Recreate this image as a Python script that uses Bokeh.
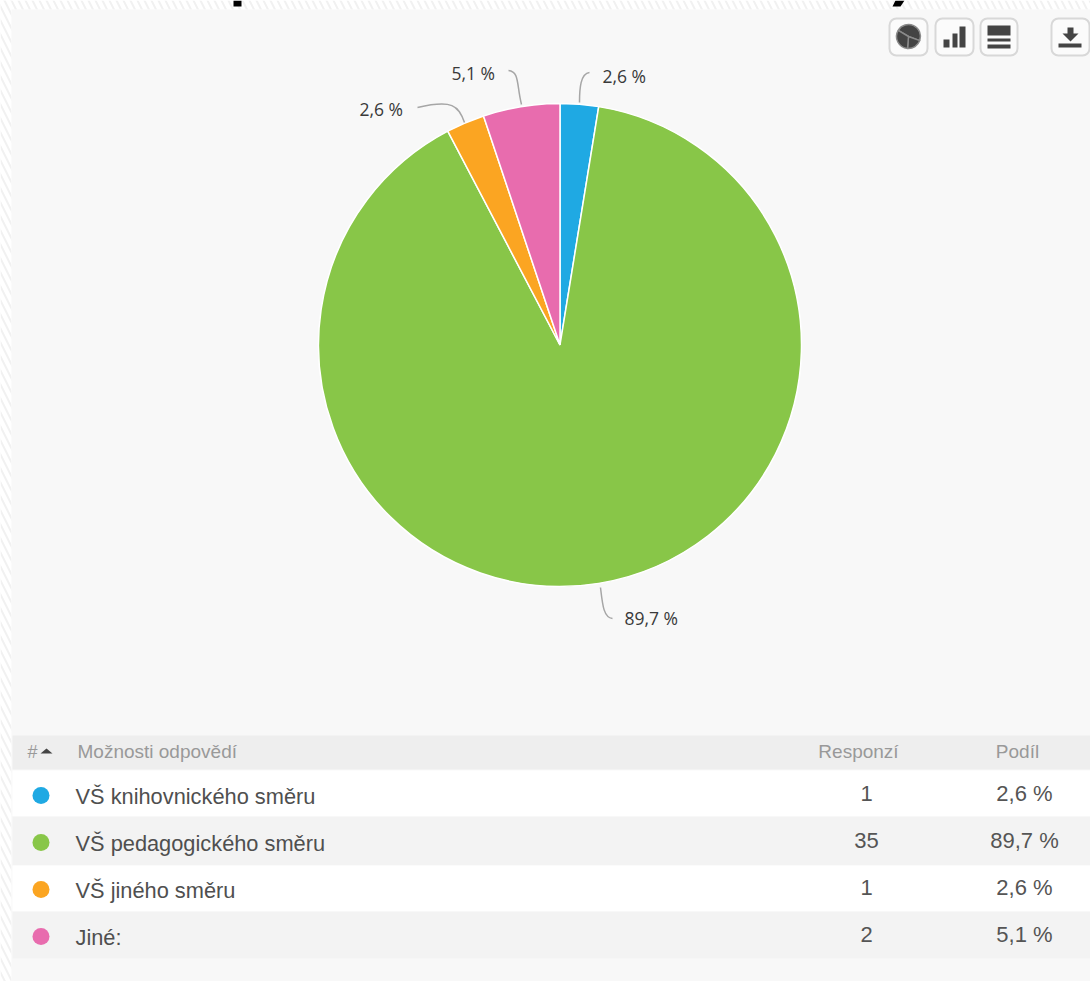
import math
from bokeh.plotting import figure
from bokeh.embed import file_html
from bokeh.resources import INLINE
from bokeh.core.properties import value

categories = ["VŠ knihovnického směru", "VŠ pedagogického směru", "VŠ jiného směru", "Jiné:"]
responses = [1, 35, 1, 2]
shares = [2.6, 89.7, 2.6, 5.1]
share_labels = ["2,6 %", "89,7 %", "2,6 %", "5,1 %"]
colors = ["#1fa9e3", "#88c648", "#fba522", "#e86cae"]
headers = ["Možnosti odpovědí", "Responzí", "Podíl"]

W, H = 1090, 981
CX, CY, R = 559.5, 344.5, 241.5

p = figure(width=W, height=H, x_range=(0, W), y_range=(H, 0),
           output_backend="svg", toolbar_location=None, min_border=0,
           outline_line_color=None, background_fill_color="white", border_fill_color="white")
p.axis.visible = False
p.grid.visible = False

# hatched page strip, panel
p.quad(left=[0, 0], right=[W, 11], top=[0, 0], bottom=[9, H], fill_color="white", line_color=None,
       hatch_pattern="left_diagonal_line", hatch_color="#f1f1f1", hatch_scale=14, hatch_weight=2)
p.quad(left=[11], right=[W], top=[9], bottom=[H], fill_color="#f8f8f8", line_color=None)

# clipped title descenders
p.patch(x=[233, 241, 241, 233], y=[0, 0, 6, 6], fill_color="black", line_color=None)
p.patch(x=[895, 904, 900, 892], y=[0, 0, 6, 6], fill_color="black", line_color=None)

# pie: Bokeh measures wedge angles anticlockwise on screen
total = sum(responses)
a = math.pi / 2
starts, ends = [], []
for r in responses:
    starts.append(a)
    a -= 2 * math.pi * r / total
    ends.append(a)
p.wedge(x=CX, y=CY, radius=R, start_angle=starts, end_angle=ends, direction="clock",
        fill_color=colors, line_color="white", line_width=1.5)

# leaders
leader_paths = [
    ((579, 102), (579, 88), (580, 73), (589, 72)),
    ((600, 587), (602, 604), (603, 617), (612, 618)),
    ((464, 122), (458, 105), (452, 99), (417, 107)),
    ((521, 104), (516, 84), (519, 71), (508, 70)),
]
for (x0, y0), (cx0, cy0), (cx1, cy1), (x1, y1) in leader_paths:
    p.bezier(x0=[x0], y0=[y0], cx0=[cx0], cy0=[cy0], cx1=[cx1], cy1=[cy1], x1=[x1], y1=[y1],
             line_color="#a6a6a6", line_width=1.5)

label_x = [602, 624, 359, 451]
label_y = [75, 617, 108, 72]
p.text(x=label_x, y=label_y, text=share_labels, text_font=value("Open Sans"), text_font_size="17.5px",
       text_color="#3a3a3a", text_align="left", text_baseline="middle")

# table bands
row_top = [770, 816, 865, 911]
row_bot = [816, 865, 911, 958]
row_fill = ["white", "#f3f3f3", "white", "#f3f3f3"]
p.quad(left=[12], right=[W], top=[735], bottom=[769], fill_color="#eeeeee", line_color=None)
p.quad(left=[12] * 4, right=[W] * 4, top=row_top, bottom=row_bot, fill_color=row_fill, line_color=None)

row_mid = [795, 842, 889, 936]
p.scatter(x=[40.5] * 4, y=row_mid, size=17, marker="circle", fill_color=colors, line_color=None)
p.text(x=[75] * 4, y=[r + 1 for r in row_mid], text=categories, text_font=value("Liberation Sans"),
       text_font_size="21.8px", text_color="#4f4f4f", text_baseline="middle")
p.text(x=[866] * 4, y=[r - 2 for r in row_mid], text=[str(v) for v in responses],
       text_font=value("Liberation Sans"), text_font_size="22px", text_color="#555555",
       text_align="center", text_baseline="middle")
p.text(x=[1024] * 4, y=[r - 2 for r in row_mid], text=[f"{s:.1f} %".replace(".", ",") for s in shares],
       text_font=value("Liberation Sans"), text_font_size="22px", text_color="#555555",
       text_align="center", text_baseline="middle")

# headers
p.text(x=[77, 858, 1017], y=[751] * 3, text=headers, text_font=value("Liberation Sans"),
       text_font_size="19px", text_color="#999999", text_align=["left", "center", "center"],
       text_baseline="middle")
p.text(x=[27], y=[751], text=["#"], text_font=value("Liberation Sans"), text_font_size="18px",
       text_color="#999999", text_baseline="middle")
p.patch(x=[40, 52, 46], y=[753, 753, 748], fill_color="#444444", line_color=None)

# toolbar buttons
btn_l = [889, 935, 980, 1051]
btn_r = [927, 973, 1017, 1089]
p.quad(left=btn_l, right=btn_r, top=[18] * 4, bottom=[55] * 4, fill_color="#fbfbfb",
       line_color="#d8d8d8", line_width=2, border_radius=7)
ICON = "#444444"
# pie icon
p.wedge(x=908, y=36, radius=12, start_angle=[2.6, -0.35, -1.65], end_angle=[-0.35, -1.65, -3.68],
        direction="clock", fill_color=ICON, line_color="#8a8a8a", line_width=1.5)
# bar icon
p.quad(left=[943, 952, 959], right=[949, 957, 965], top=[39, 33, 26], bottom=[47] * 3,
       fill_color=ICON, line_color=None)
# table icon
p.quad(left=[987] * 3, right=[1010] * 3, top=[25, 38, 44], bottom=[35, 41, 48],
       fill_color=ICON, line_color=None)
# download icon
p.quad(left=[1067], right=[1073], top=[27], bottom=[34], fill_color=ICON, line_color=None)
p.patch(x=[1062, 1078, 1070], y=[33, 33, 41], fill_color=ICON, line_color=None)
p.quad(left=[1058], right=[1081], top=[43], bottom=[47], fill_color=ICON, line_color=None)

open("out.html", "w").write(file_html(p, INLINE))
